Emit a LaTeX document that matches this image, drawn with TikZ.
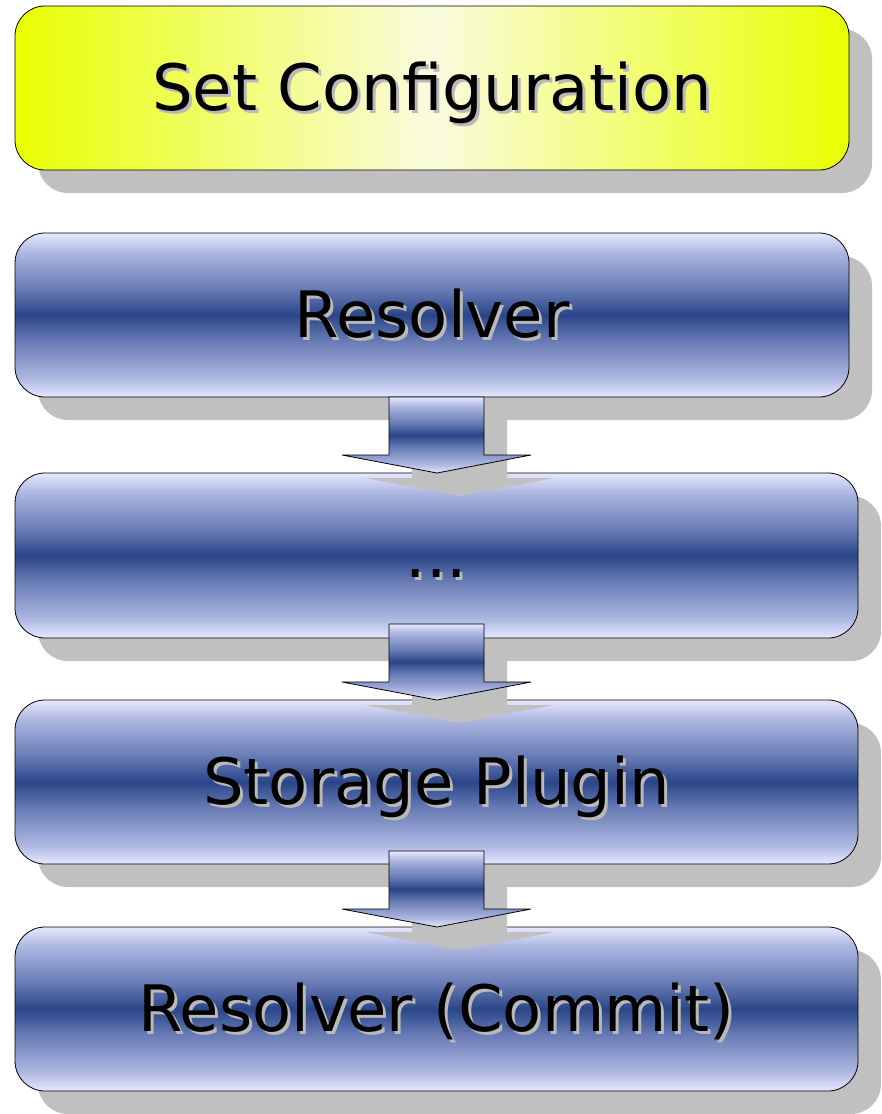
\documentclass[tikz,border=0pt]{standalone}
\usepackage{fontspec}
\setmainfont{DejaVu Sans}
\definecolor{shadowgray}{RGB}{192,192,192}
\definecolor{textshadow}{RGB}{185,185,185}
\definecolor{lav}{RGB}{230,232,255}
\definecolor{lightblue}{RGB}{172,182,224}
\definecolor{midblue}{RGB}{105,124,182}
\definecolor{darkblue}{RGB}{42,70,136}
\definecolor{ybright}{RGB}{232,255,0}
\definecolor{ypale}{RGB}{250,251,222}
\pgfdeclareverticalshading{bluebar}{100bp}{color(0bp)=(lav); color(25bp)=(lav); color(31bp)=(lightblue); color(42bp)=(midblue); color(50bp)=(darkblue); color(58bp)=(midblue); color(69bp)=(lightblue); color(75bp)=(lav); color(100bp)=(lav)}
\pgfdeclarehorizontalshading{yellowbar}{100bp}{color(0bp)=(ybright); color(25bp)=(ybright); color(50bp)=(ypale); color(75bp)=(ybright); color(100bp)=(ybright)}
\newcommand\shadtext[1]{\makebox[0pt][l]{\hspace{3pt}\raisebox{-3pt}{\textcolor{textshadow}{#1}}}#1}
\begin{document}
\begin{tikzpicture}[x=1pt,y=-1pt,
  shadowbox/.style={fill=shadowgray, rounded corners=30pt},
  bluebox/.style={draw=black, line width=0.8pt, shading=bluebar, rounded corners=30pt},
  yellowbox/.style={draw=black, line width=0.8pt, shading=yellowbar, rounded corners=30pt},
  arrowfill/.style={draw=black, line width=0.8pt, shading=bluebar},
  arrowshadow/.style={fill=shadowgray},
  lbl/.style={font=\fontsize{64}{70}\selectfont, anchor=base, inner sep=0pt}]
\useasboundingbox (0,0) rectangle (882,1114);
% boxes
\fill[shadowbox] (38,29) rectangle (872,193);
\path[yellowbox] (15,6) rectangle (849,170);
\fill[shadowbox] (38,256) rectangle (872,420);
\path[bluebox] (15,233) rectangle (849,397);
\fill[shadowbox] (38,496) rectangle (881,661);
\path[bluebox] (15,473) rectangle (858,638);
\fill[shadowbox] (38,723) rectangle (881,887);
\path[bluebox] (15,700) rectangle (858,864);
\fill[shadowbox] (38,950) rectangle (881,1114);
\path[bluebox] (15,927) rectangle (858,1091);
% named anchors
\coordinate (c1) at (432,88);
\coordinate (c2) at (432,315);
\coordinate (c3) at (436.5,555.5);
\coordinate (c4) at (436.5,782);
\coordinate (c5) at (436.5,1009);
% arrows
\foreach \t in {397,624,851}{
  \fill[arrowshadow] (412,\t+23) -- (507,\t+23) -- (507,\t+81) -- (554,\t+81) -- (460,\t+99) -- (365,\t+81) -- (412,\t+81) -- cycle;
  \path[arrowfill] (389,\t) -- (484,\t) -- (484,\t+58) -- (531,\t+58) -- (437,\t+76) -- (342,\t+58) -- (389,\t+58) -- cycle;
}
% labels
\node[lbl] (t1) at ([shift={(0,22)}]c1) {\shadtext{Set Configuration}};
\node[lbl] (t2) at ([shift={(0,22)}]c2) {\shadtext{Resolver}};
\node[lbl] (t3) at ([shift={(0,22)}]c3) {\shadtext{...}};
\node[lbl] (t4) at ([shift={(0,22)}]c4) {\shadtext{Storage Plugin}};
\node[lbl] (t5) at ([shift={(0,22)}]c5) {\shadtext{Resolver (Commit)}};
\end{tikzpicture}
\end{document}
